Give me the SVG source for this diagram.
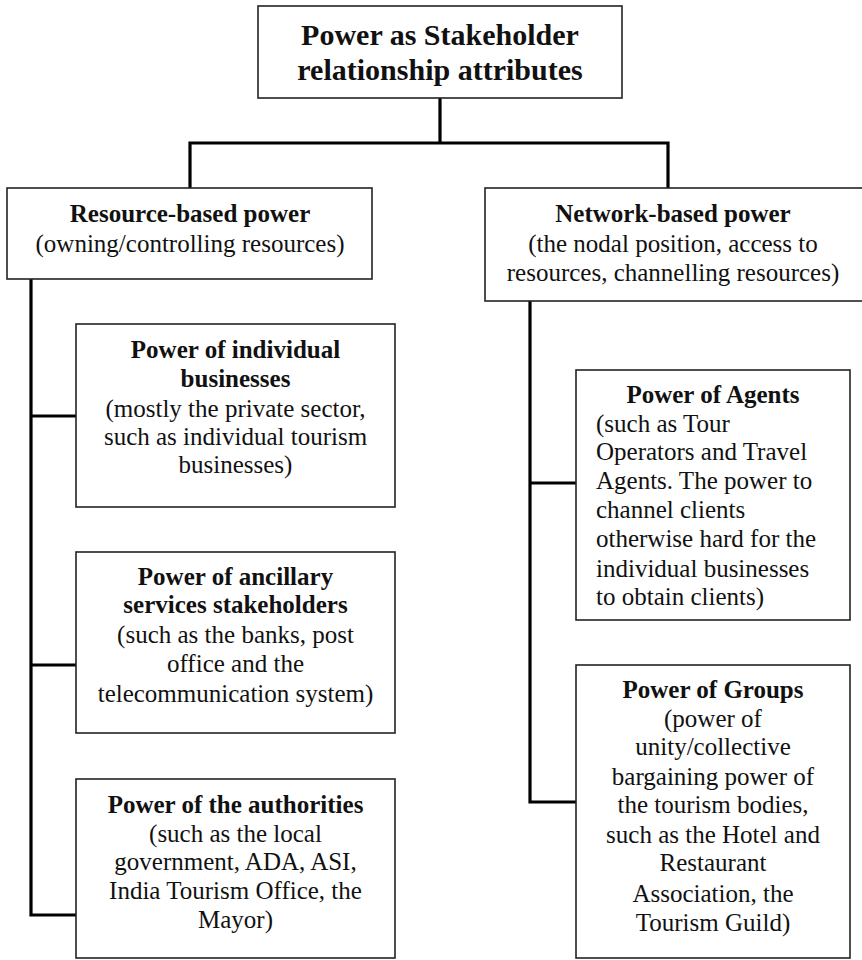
<svg xmlns="http://www.w3.org/2000/svg" width="862" height="960" viewBox="0 0 862 960">
<style>
.box{fill:#fff;stroke:#222;stroke-width:1.6}
.conn{fill:none;stroke:#000;stroke-width:3.2;stroke-linejoin:miter}
text{font-family:"Liberation Serif","Times New Roman",serif;font-size:25px;fill:#111}
.b{font-weight:bold}
.t{font-size:30px}
.c{text-anchor:middle}
</style>
<rect width="862" height="960" fill="#fff"/>
<g id="connectors">
<path class="conn" d="M440 98 V143 M190 188 V143 H668 V188"/>
<path class="conn" d="M31 279 V915 H76 M31 416 H76 M31 665 H76"/>
<path class="conn" d="M530 301 V802 H576 M530 483 H576"/>
</g>
<g id="root">
<rect class="box" x="258" y="6" width="364" height="92"/>
<text class="b t c" x="440" y="45">Power as Stakeholder</text>
<text class="b t c" x="440" y="80">relationship attributes</text>
</g>
<g id="resource">
<rect class="box" x="7" y="188" width="365" height="91"/>
<text class="b c" x="190" y="222">Resource-based power</text>
<text class="c" x="190" y="252">(owning/controlling resources)</text>
</g>
<g id="network">
<rect class="box" x="485" y="188" width="385" height="113"/>
<text class="b c" x="673" y="222">Network-based power</text>
<text class="c" x="673" y="252">(the nodal position, access to</text>
<text class="c" x="673" y="281">resources, channelling resources)</text>
</g>
<g id="individual">
<rect class="box" x="76" y="324" width="319" height="183"/>
<text class="b c" x="235.5" y="358">Power of individual</text>
<text class="b c" x="235.5" y="387">businesses</text>
<text class="c" x="235.5" y="417">(mostly the private sector,</text>
<text class="c" x="235.5" y="445">such as individual tourism</text>
<text class="c" x="235.5" y="473">businesses)</text>
</g>
<g id="ancillary">
<rect class="box" x="76" y="552" width="319" height="181"/>
<text class="b c" x="235.5" y="585">Power of ancillary</text>
<text class="b c" x="235.5" y="613">services stakeholders</text>
<text class="c" x="235.5" y="643">(such as the banks, post</text>
<text class="c" x="235.5" y="672">office and the</text>
<text class="c" x="235.5" y="702">telecommunication system)</text>
</g>
<g id="authorities">
<rect class="box" x="76" y="779" width="319" height="179"/>
<text class="b c" x="235.5" y="813">Power of the authorities</text>
<text class="c" x="235.5" y="842">(such as the local</text>
<text class="c" x="235.5" y="870">government, ADA, ASI,</text>
<text class="c" x="235.5" y="899">India Tourism Office, the</text>
<text class="c" x="235.5" y="928">Mayor)</text>
</g>
<g id="agents">
<rect class="box" x="576" y="370" width="274" height="250"/>
<text class="b c" x="713" y="403">Power of Agents</text>
<text x="596" y="432">(such as Tour</text>
<text x="596" y="460">Operators and Travel</text>
<text x="596" y="489">Agents. The power to</text>
<text x="596" y="518">channel clients</text>
<text x="596" y="547">otherwise hard for the</text>
<text x="596" y="577">individual businesses</text>
<text x="596" y="605">to obtain clients)</text>
</g>
<g id="groups">
<rect class="box" x="576" y="665" width="274" height="293"/>
<text class="b c" x="713" y="698">Power of Groups</text>
<text class="c" x="713" y="727">(power of</text>
<text class="c" x="713" y="755">unity/collective</text>
<text class="c" x="713" y="785">bargaining power of</text>
<text class="c" x="713" y="813">the tourism bodies,</text>
<text class="c" x="713" y="843">such as the Hotel and</text>
<text class="c" x="713" y="871">Restaurant</text>
<text class="c" x="713" y="902">Association, the</text>
<text class="c" x="713" y="931">Tourism Guild)</text>
</g>
</svg>
